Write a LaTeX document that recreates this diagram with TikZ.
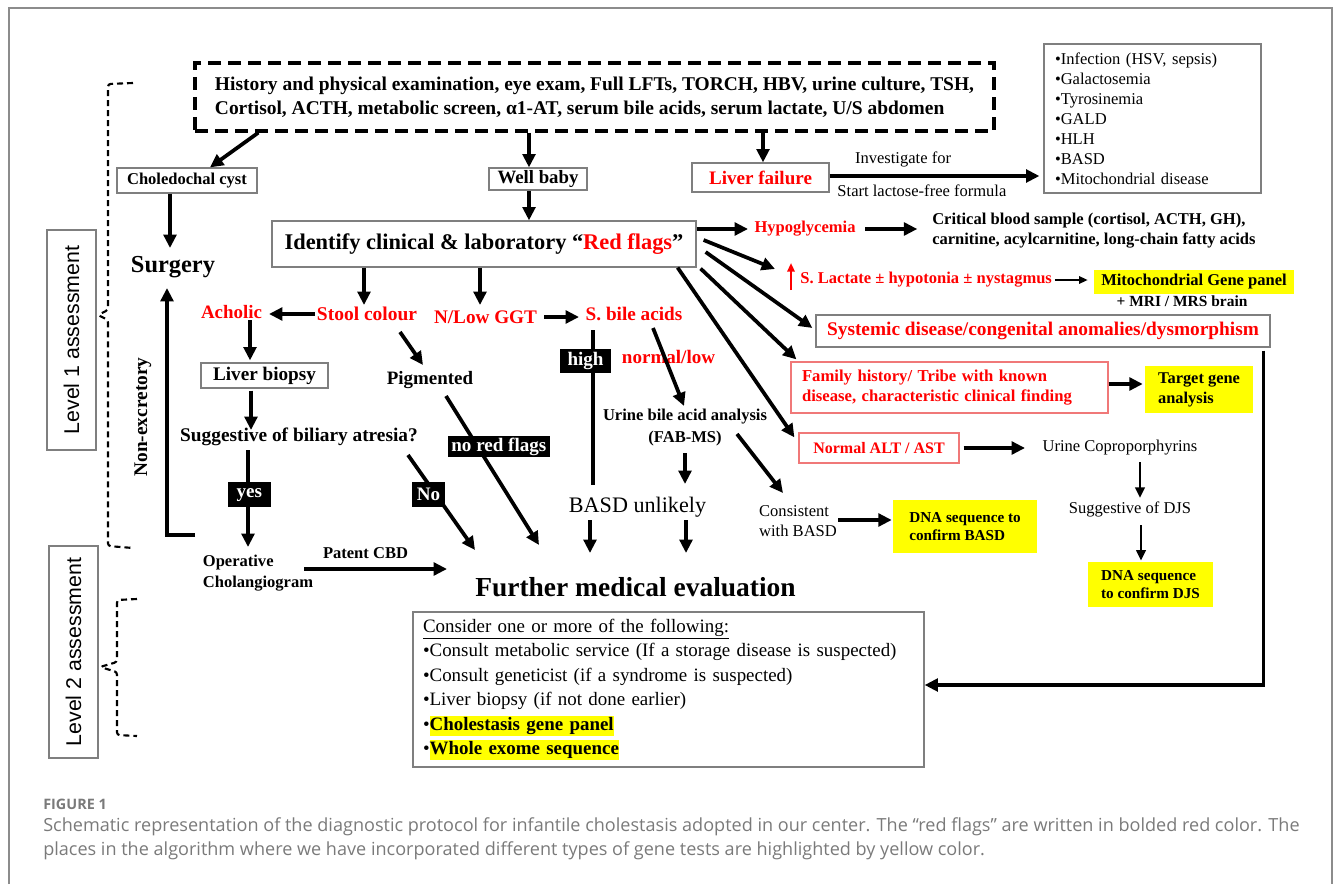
\documentclass[tikz,border=0pt]{standalone}
\usepackage{fontspec}
\setmainfont{Liberation Serif}
\newfontfamily\arialfont{Liberation Sans}
\newfontfamily\capfont{Open Sans}
\usetikzlibrary{arrows.meta,calc}
\definecolor{boxgrey}{HTML}{7F7F7F}
\definecolor{boxred}{HTML}{F07878}
\definecolor{flagred}{HTML}{FF0000}
\definecolor{hlyellow}{HTML}{FFFF00}
\definecolor{capgrey}{HTML}{7A7A7A}
\definecolor{framegrey}{HTML}{8C8C8C}
\newcommand{\hl}[1]{{\setlength{\fboxsep}{0pt}\colorbox{hlyellow}{\rule[-4pt]{0pt}{15pt}#1}}}
\newcommand{\szS}{\fontsize{12.4pt}{15pt}\selectfont}
\newcommand{\szM}{\fontsize{14.3pt}{17pt}\selectfont}

\begin{document}
\begin{tikzpicture}[x=0.75pt, y=-0.75pt,
  box/.style={draw=boxgrey, line width=0.9pt, fill=white, inner sep=0pt},
  redbox/.style={draw=boxred, line width=0.9pt, inner sep=0pt, text=flagred},
  gene/.style={fill=hlyellow, inner sep=0pt},
  flag/.style={text=flagred, inner sep=2pt},
  txt/.style={inner sep=2pt},
  lab/.style={fill=black, text=white, inner sep=0pt, font=\szM\bfseries},
  arr/.style={-{Triangle[length=10pt,width=9.5pt]}, line width=2.8pt},
  midarr/.style={-{Triangle[length=8pt,width=7pt]}, line width=2pt},
  thinarr/.style={-{Triangle[length=6.5pt,width=5.5pt]}, line width=1.5pt},
  brace/.style={dash pattern=on 4.5pt off 3pt, line width=1.6pt, rounded corners=2pt}
]
\useasboundingbox (0,0) rectangle (1333,884);
\draw[framegrey, line width=1pt] (9,884) -- (9,8) -- (1332,8) -- (1332,884);

\node[box, draw=black, dash pattern=on 9.75pt off 5.25pt, line width=2.5pt, minimum width=599.25pt, minimum height=51pt, align=left, font=\fontsize{14.6pt}{18pt}\selectfont\bfseries] (hist) at (594.5,97) {History and physical examination, eye exam, Full LFTs, TORCH, HBV, urine culture, TSH,\\Cortisol, ACTH, metabolic screen, α1-AT, serum bile acids, serum lactate, U/S abdomen};

\node[box, minimum width=105pt, minimum height=18.75pt, font=\szS\bfseries] (chol) at (187,180.5) {Choledochal cyst};
\node[txt, font=\fontsize{18.3pt}{22pt}\selectfont\bfseries] (surg) at (173,267) {Surgery};
\node[box, minimum width=73.5pt, minimum height=16.5pt, font=\fontsize{14.1pt}{17pt}\selectfont\bfseries] (well) at (538,179) {Well baby};
\node[box, text=flagred, minimum width=102.75pt, minimum height=21.75pt, font=\szM\bfseries] (lf) at (760.5,177.5) {Liver failure};
\node[box, minimum width=162.75pt, minimum height=111.75pt, inner xsep=8.25pt, text width=146.25pt, align=left, font=\szS] (inv) at (1152.5,118.5) {•Infection (HSV, sepsis)\\•Galactosemia\\•Tyrosinemia\\•GALD\\•HLH\\•BASD\\•Mitochondrial disease};

\node[box, minimum width=318pt, minimum height=34.5pt, font=\fontsize{16.8pt}{20pt}\selectfont\bfseries] (idf) at (484,244) {Identify clinical \& laboratory “\textcolor{flagred}{Red flags}”};
\node[flag, font=\szS\bfseries] (hypo) at (805,229) {Hypoglycemia};
\node[txt, anchor=west, align=left, font=\szS\bfseries] (crit) at (929.3,231) {Critical blood sample (cortisol, ACTH, GH),\\carnitine, acylcarnitine, long-chain fatty acids};
\node[flag, anchor=west, font=\szS\bfseries] (lact) at (797.5,280) {S. Lactate ± hypotonia ± nystagmus};
\node[gene, minimum width=150pt, minimum height=18pt, font=\szS\bfseries] (mito) at (1194,281.5) {Mitochondrial Gene panel};
\node[txt, font=\fontsize{11.6pt}{14pt}\selectfont\bfseries] (mri) at (1182,301) {+ MRI / MRS brain};
\node[box, text=flagred, minimum width=340.5pt, minimum height=24pt, font=\fontsize{14.5pt}{17pt}\selectfont\bfseries] (sys) at (1043,331) {Systemic disease/congenital anomalies/dysmorphism};
\node[redbox, minimum width=237.75pt, minimum height=38.25pt, inner xsep=8.25pt, text width=221.25pt, align=left, font=\fontsize{12.5pt}{14.8pt}\selectfont\bfseries] (fam) at (949.5,387.5) {Family history/ Tribe with known\\disease, characteristic clinical finding};
\node[gene, minimum width=81pt, minimum height=35.25pt, align=left, font=\fontsize{12.3pt}{15pt}\selectfont\bfseries] (tgt) at (1199,389.5) {Target gene\\analysis};
\node[redbox, minimum width=120pt, minimum height=22.5pt, font=\fontsize{12pt}{14pt}\selectfont\bfseries] (alt) at (879,448) {Normal ALT / AST};
\node[txt, font=\szS] (copro) at (1120,448) {Urine Coproporphyrins};
\node[txt, font=\szS] (djs) at (1130,509) {Suggestive of DJS};
\node[gene, minimum width=93.75pt, minimum height=33.75pt, align=left, font=\fontsize{11.4pt}{13.5pt}\selectfont\bfseries] (dnadjs) at (1150.5,584.5) {DNA sequence\\to confirm DJS};
\node[gene, minimum width=108pt, minimum height=39.75pt, align=left, font=\fontsize{11.4pt}{13.5pt}\selectfont\bfseries] (dnabasd) at (965,526.5) {DNA sequence to\\confirm BASD};
\node[txt, align=left, font=\szS] (cons) at (798,521) {Consistent\\with BASD};

\node[flag, font=\fontsize{14.6pt}{17pt}\selectfont\bfseries] (stool) at (367,314) {Stool colour};
\node[flag, font=\fontsize{14.2pt}{17pt}\selectfont\bfseries] (acho) at (231.5,312) {Acholic};
\node[box, minimum width=95.25pt, minimum height=18.75pt, font=\fontsize{14.4pt}{17pt}\selectfont\bfseries] (lb) at (264.5,375.5) {Liver biopsy};
\node[txt, font=\fontsize{14.5pt}{17pt}\selectfont\bfseries] (sba) at (299,437) {Suggestive of biliary atresia?};
\node[txt, align=left, font=\fontsize{12.4pt}{15.75pt}\selectfont\bfseries] (op) at (258,573.5) {Operative\\Cholangiogram};
\node[txt, font=\fontsize{14.2pt}{17pt}\selectfont\bfseries] (pig) at (430,380) {Pigmented};
\node[flag, font=\fontsize{14.4pt}{17pt}\selectfont\bfseries] (ggt) at (485.5,317) {N/Low GGT};
\node[flag, font=\fontsize{14.4pt}{17pt}\selectfont\bfseries] (sbile) at (634,314) {S. bile acids};
\node[flag, font=\szM\bfseries] (nl) at (668.5,357) {normal/low};
\node[txt, align=center, font=\fontsize{12.4pt}{16.5pt}\selectfont\bfseries] (uba) at (685,428) {Urine bile acid analysis\\(FAB-MS)};
\node[txt, font=\fontsize{16.6pt}{20pt}\selectfont] (basd) at (637.5,507) {BASD unlikely};
\node[txt, font=\fontsize{20.6pt}{24pt}\selectfont\bfseries] (fme) at (635.5,587) {Further medical evaluation};
\node[box, minimum width=383.25pt, minimum height=116.25pt, inner xsep=7.5pt, text width=368.25pt, align=left, font=\fontsize{14.2pt}{18.4pt}\selectfont] (cons2) at (668.5,689.5) {\underline{Consider one or more of the following:}\\•Consult metabolic service (If a storage disease is suspected)\\•Consult geneticist (if a syndrome is suspected)\\•Liver biopsy (if not done earlier)\\•\hl{\textbf{Cholestasis gene panel}}\\•\hl{\textbf{Whole exome sequence}}};

\node[box, rotate=90, minimum width=165pt, minimum height=36.75pt, font=\arialfont\fontsize{16pt}{19pt}\selectfont] (lv1) at (71.5,340) {Level 1 assessment};
\node[box, rotate=90, minimum width=159pt, minimum height=36.75pt, font=\arialfont\fontsize{16pt}{19pt}\selectfont] (lv2) at (73.5,652) {Level 2 assessment};
\node[txt, rotate=90, font=\fontsize{14.5pt}{17pt}\selectfont\bfseries] (nonex) at (143,417) {Non-excretory};

\draw[brace] (133,83) -- (108,84) -- (108,310) -- (98,315) -- (108,320) -- (108,546) -- (133,548);
\draw[brace] (137,599) -- (117,600) -- (117,662) -- (100,667) -- (117,672) -- (117,735) -- (137,736);

\draw[arr] ($(hist.south west)+(65,0)$) -- ($(chol.north)+(23,0)$);
\draw[arr] ($(chol.south)+(-17,0)$) -- ($(surg.center)+(-3,-19)$);
\draw[arr] ($(hist.south)+(-65.5,0)$) -- ($(well.north)+(-9,0)$);
\draw[arr] ($(well.south)+(-9,0)$) -- ($(idf.north)+(45,0)$);
\draw[arr] ($(hist.south)+(168.5,0)$) -- ($(lf.north)+(2.5,0)$);
\draw[arr] ($(lf.east)+(0,-1.5)$) -- ($(lf.east -| inv.west)+(-4,-1.5)$)
  node[pos=0.35, above=2pt, font=\szS] {Investigate for}
  node[pos=0.44, below=2pt, font=\szS] {Start lactose-free formula};

\draw[arr] (idf.east |- hypo) -- ($(hypo.center)+(-57,0)$);
\draw[arr] ($(hypo.center)+(60,0)$) -- ($(crit.west)+(-12,-2)$);
\draw[arr] ($(idf.east)+(7,-4)$) -- ($(lact.west)+(-22.5,-11)$);
\draw[thinarr, flagred] ($(lact.west)+(-6.5,10)$) -- ($(lact.west)+(-6.5,-17)$);
\draw[thinarr] (lact.east) -- ($(lact.east -| mito.west)+(-6,0)$);
\draw[arr] ($(idf.east)+(9,8)$) -- ($(sys.west)+(-3,-3)$);
\draw[arr] ($(idf.south east)+(4,1)$) -- ($(fam.north west)+(6,-2)$);
\draw[arr] ($(idf.south east)+(-19,0)$) -- ($(alt.north west)+(-4,5)$);
\draw[arr] ($(sys.south east)+(-7,3)$) |- ($(cons2.east)+(0,-4.5)$);
\draw[arr] ($(fam.east)+(0,-3.5)$) -- ($(tgt.west)+(-2,-5.5)$);
\draw[arr] ($(alt.east)+(4,0)$) -- ($(copro.center)+(-95,0)$);
\draw[midarr] ($(copro.center)+(20,14)$) -- ($(djs.center)+(10,-11)$);
\draw[midarr] ($(djs.center)+(11,16)$) -- ($(dnadjs.north)+(-9.5,-1)$);
\draw[arr] ($(cons.center)+(40,-1)$) -- ($(dnabasd.west)+(-1,-6.5)$);
\draw[arr] ($(uba.center)+(52,6)$) -- ($(cons.center)+(-15,-28)$);
\draw[arr] ($(uba.center)+(0,25)$) -- ($(basd.center)+(47.5,-23)$);
\draw[arr] ($(sbile.center)+(19,14)$) -- ($(uba.center)+(-1,-22)$);
\draw[line width=2.8pt] ($(sbile.center)+(-41,16)$) -- ($(basd.center)+(-44.5,-22)$)
  node[lab, pos=0.2, xshift=-5.6pt, minimum width=38.25pt, minimum height=18pt] {high};
\draw[arr] ($(basd.center)+(-47.5,13)$) -- ($(fme.center)+(-45.5,-34)$);
\draw[arr] ($(basd.center)+(48.5,13)$) -- ($(fme.center)+(50.5,-34)$);

\draw[arr] ($(idf.south)+(-4,0)$) -- ($(ggt.center)+(-5.5,-12)$);
\draw[arr] ($(ggt.center)+(58.5,0)$) -- ($(sbile.center)+(-55,3)$);
\draw[arr] ($(idf.south)+(-120,0)$) -- ($(stool.center)+(-3,-9)$);
\draw[arr] ($(stool.center)+(-52,0)$) -- ($(acho.center)+(37.5,2)$);
\draw[arr] ($(stool.center)+(33,18)$) -- ($(pig.center)+(-7,-15)$);
\draw[arr] ($(acho.center)+(18.5,8)$) -- ($(lb.north)+(-14.5,-2)$);
\draw[arr] ($(lb.south)+(-13.5,2)$) -- ($(sba.center)+(-48,-7)$);
\draw[arr] ($(sba.center)+(-51,13)$) -- ($(op.center)+(-10,-26.5)$)
  node[lab, pos=0.46, xshift=1pt, minimum width=32.25pt, minimum height=18.75pt] {yes};
\draw[arr] ($(op.center)+(-63,-38.5)$) -| ($(surg.center)+(-6,21)$);
\draw[arr] ($(sba.center)+(109,18)$) -- ($(fme.center)+(-160.5,-37)$)
  node[lab, pos=0.416, xshift=-5.5pt, minimum width=24.75pt, minimum height=18.75pt] {No};
\draw[arr] ($(pig.center)+(16,16)$) -- ($(fme.center)+(-96.5,-42)$)
  node[lab, pos=0.339, xshift=16pt, minimum width=76.5pt, minimum height=15.75pt] {no red flags};
\draw[arr] ($(op.center)+(46,-4.5)$) -- ($(fme.center)+(-188.5,-18)$)
  node[pos=0.43, above=3pt, font=\szS\bfseries] {Patent CBD};

\node[anchor=west, inner sep=0pt, text=capgrey, font=\capfont\bfseries\fontsize{10.8pt}{13pt}\selectfont] (fig) at (43,804) {FIGURE 1};
\node[anchor=north west, inner sep=0pt, align=left, text=capgrey, font=\capfont\fontsize{13.55pt}{18pt}\selectfont] (cap) at (43,817) {Schematic representation of the diagnostic protocol for infantile cholestasis adopted in our center. The “red flags” are written in bolded red color. The\\places in the algorithm where we have incorporated different types of gene tests are highlighted by yellow color.};
\end{tikzpicture}
\end{document}
